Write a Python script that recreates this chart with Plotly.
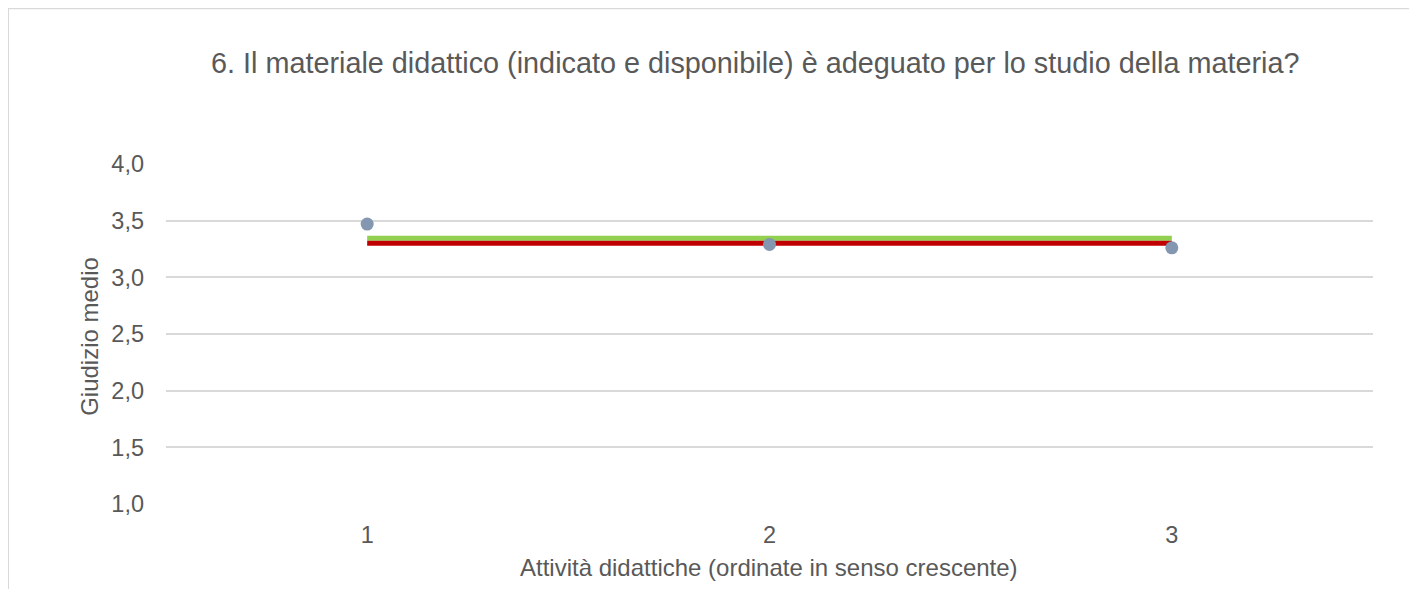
import plotly.graph_objects as go

categorie = [1, 2, 3]
giudizio_medio = [3.47, 3.29, 3.26]
media_verde = [3.345, 3.345, 3.345]
media_rossa = [3.30, 3.30, 3.30]
y_ticks = [1.0, 1.5, 2.0, 2.5, 3.0, 3.5, 4.0]

TITLE = "6. Il materiale didattico (indicato e disponibile) è adeguato per lo studio della materia?"
FONT = "Liberation Sans, Arial, sans-serif"
TXT = "#595959"

W, H = 1417, 589
OFF = 8  # page body margin
L, R, T, B = 166 - OFF, 1373 - OFF, 164 - OFF, 504.3 - OFF

fig = go.Figure()
fig.add_trace(go.Scatter(x=categorie, y=media_verde, mode="lines",
                         line=dict(color="#92D050", width=5), hoverinfo="skip"))
fig.add_trace(go.Scatter(x=categorie, y=media_rossa, mode="lines",
                         line=dict(color="#C00000", width=5), hoverinfo="skip"))
fig.add_trace(go.Scatter(x=categorie, y=giudizio_medio, mode="markers",
                         marker=dict(color="#8497B0", size=13)))

def px_x(p):
    return (p - OFF - L) / (R - L)

def px_y(p):
    return (B - (p - OFF)) / (B - T)

fig.update_layout(
    width=W, height=H,
    margin=dict(l=L, r=W - R, t=T, b=H - B, pad=0),
    paper_bgcolor="white", plot_bgcolor="white",
    showlegend=False,
    separators=",.",
    font=dict(family=FONT, color=TXT, size=24),
    xaxis=dict(range=[0.5, 3.5], tickvals=categorie, ticktext=[str(c) for c in categorie],
               showgrid=False, zeroline=False, showline=False, ticks="",
               ticklabelstandoff=14, tickfont=dict(size=23.5, color=TXT)),
    yaxis=dict(range=[1.0, 4.0], tickvals=y_ticks, tickformat=".1f",
               showgrid=True, gridcolor="#D9D9D9", gridwidth=1.6,
               zeroline=False, showline=False, ticks="",
               ticklabelstandoff=21, tickfont=dict(size=23.5, color=TXT)),
    shapes=[dict(type="rect", xref="paper", yref="paper",
                 x0=px_x(8), x1=px_x(1440), y0=px_y(620), y1=px_y(8),
                 line=dict(color="#D9D9D9", width=2), fillcolor="rgba(0,0,0,0)", layer="below")],
    annotations=[
        dict(text=TITLE, xref="paper", yref="paper", x=px_x(755), y=px_y(63),
             xanchor="center", yanchor="middle", showarrow=False,
             font=dict(size=28.8, color=TXT, family=FONT)),
        dict(text="Giudizio medio", xref="paper", yref="paper", x=px_x(90), y=px_y(337),
             xanchor="center", yanchor="middle", textangle=-90, showarrow=False,
             font=dict(size=24, color=TXT, family=FONT)),
        dict(text="Attività didattiche (ordinate in senso crescente)", xref="paper", yref="paper",
             x=px_x(769), y=px_y(568), xanchor="center", yanchor="middle", showarrow=False,
             font=dict(size=24, color=TXT, family=FONT)),
    ],
)

fig.write_html("out.html")
